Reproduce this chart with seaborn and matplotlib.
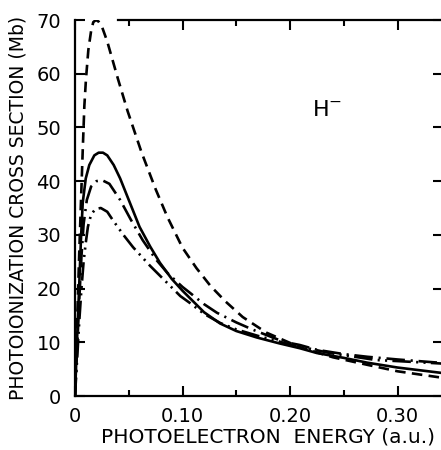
import numpy as np
import pandas as pd
import matplotlib
matplotlib.use("Agg")
import matplotlib.pyplot as plt
import seaborn as sns

# ---- data ----
dashed_x = [0, 0.002, 0.004, 0.0056, 0.0072, 0.0087, 0.0102, 0.0124, 0.015, 0.017, 0.0195, 0.022,
            0.025, 0.030, 0.040, 0.049, 0.062, 0.075, 0.086, 0.100, 0.113, 0.126, 0.140, 0.156,
            0.178, 0.209, 0.240, 0.272, 0.300, 0.345]
dashed_y = [0, 14, 27, 36.5, 45.8, 54, 59, 64.4, 68, 69.6, 70, 69.7,
            68.8, 66, 59, 53, 45.3, 38.5, 33.3, 27.6, 23.8, 20.5, 17.6, 14.7,
            11.8, 9.1, 7.2, 5.8, 4.6, 3.3]

solid_x = [0, 0.002, 0.004, 0.0055, 0.0072, 0.010, 0.0133, 0.018, 0.022, 0.026, 0.030, 0.036,
           0.042, 0.050, 0.060, 0.070, 0.079, 0.090, 0.100, 0.107, 0.120, 0.135, 0.150, 0.169,
           0.190, 0.209, 0.225, 0.250, 0.272, 0.300, 0.345]
solid_y = [0, 11, 21, 29, 36, 40.5, 43, 44.8, 45.3, 45.3, 44.8, 43,
           40.5, 36.5, 31.5, 27.8, 24.8, 21.8, 19.6, 18.2, 15.6, 13.5, 12.1, 10.9,
           9.8, 8.9, 8.0, 7.1, 6.2, 5.3, 4.2]

dashdot_x = [0, 0.002, 0.004, 0.006, 0.008, 0.011, 0.015, 0.020, 0.025, 0.032, 0.042, 0.052,
             0.063, 0.075, 0.086, 0.100, 0.107, 0.120, 0.132, 0.150, 0.166, 0.194, 0.209, 0.225,
             0.250, 0.272, 0.300, 0.345]
dashdot_y = [0, 9, 18, 26, 32, 36.5, 39, 40, 40.2, 39.5, 36.5, 32.8,
             29, 25.5, 22.9, 20.3, 19.2, 17.1, 15.5, 13.7, 12.3, 10.1, 9.5, 8.6,
             7.8, 7.3, 6.8, 6.1]

dashdotdot_x = [0, 0.002, 0.004, 0.006, 0.008, 0.010, 0.012, 0.015, 0.019, 0.024, 0.030, 0.035,
                0.045, 0.054, 0.070, 0.086, 0.098, 0.107, 0.120, 0.135, 0.150, 0.170, 0.200,
                0.237, 0.280, 0.300, 0.345]
dashdotdot_y = [0, 7, 14, 20, 25, 28.5, 31.5, 33.8, 34.8, 35, 34.3, 32.8,
                30, 27.7, 24.2, 21, 18.6, 17.3, 15.3, 13.6, 12.4, 11.2, 9.6,
                8.0, 6.7, 6.5, 6.0]

x_ticks = [0, 0.10, 0.20, 0.30]
x_tick_labels = ["0", "0.10", "0.20", "0.30"]
y_ticks = [0, 10, 20, 30, 40, 50, 60, 70]

# ---- build long table ----
frames = []
for name, xs, ys in [("dashed", dashed_x, dashed_y), ("solid", solid_x, solid_y),
                     ("dashdot", dashdot_x, dashdot_y), ("dashdotdot", dashdotdot_x, dashdotdot_y)]:
    frames.append(pd.DataFrame({"energy": xs, "sigma": ys, "curve": name}))
df = pd.concat(frames, ignore_index=True)

sns.set_style("ticks")
plt.rcParams['font.family'] = ['DejaVu Sans']
plt.rcParams.update({"text.color": "black", "axes.labelcolor": "black",
                     "xtick.color": "black", "ytick.color": "black",
                     "axes.edgecolor": "black"})

fig = plt.figure(figsize=(4.41, 4.50), dpi=100)
x0_px, x1_px = 75, 443
ax = fig.add_axes([x0_px / 441, 54 / 450, (x1_px - x0_px) / 441, 376 / 450])

dash_map = {"dashed": (4.0, 2.4), "solid": "", "dashdot": (7, 2.2, 0.8, 2.2),
            "dashdotdot": (7, 2.0, 0.8, 2.0, 0.8, 2.0)}
sns.lineplot(data=df, x="energy", y="sigma", style="curve", dashes=dash_map,
             color="black", linewidth=1.9, estimator=None, sort=False, legend=False, ax=ax)

xmax = 0.3423
ax.set_xlim(0, xmax)
ax.set_ylim(0, 70)

ax.set_xticks(x_ticks)
ax.set_xticklabels(x_tick_labels)
ax.set_xticks([0.05, 0.15, 0.25], minor=True)
ax.set_yticks(y_ticks)
ax.set_yticklabels([str(v) for v in y_ticks])

ax.tick_params(axis="both", which="major", direction="in", length=7, width=1.5,
               labelsize=14, top=True, right=True, colors="black", pad=8)
ax.tick_params(axis="x", which="minor", direction="in", length=4, width=1.5, top=True)
ax.tick_params(axis="y", which="major", pad=10)

for s in ax.spines.values():
    s.set_linewidth(1.6)
    s.set_color("black")
ax.spines["top"].set_bounds(0.040, xmax)

ax.set_xlabel("PHOTOELECTRON  ENERGY (a.u.)", fontsize=14.5, labelpad=2)
ax.set_ylabel("PHOTOIONIZATION CROSS SECTION (Mb)", fontsize=13.5, labelpad=4)
ax.xaxis.set_label_coords((268 - x0_px) / (x1_px - x0_px), -0.085)
ax.yaxis.set_label_coords(-0.130, 0.5)

ax.text(0.2205, 53.3, "H$^{-}$", fontsize=16, ha="left", va="center")

fig.savefig("out.png", dpi=100)
